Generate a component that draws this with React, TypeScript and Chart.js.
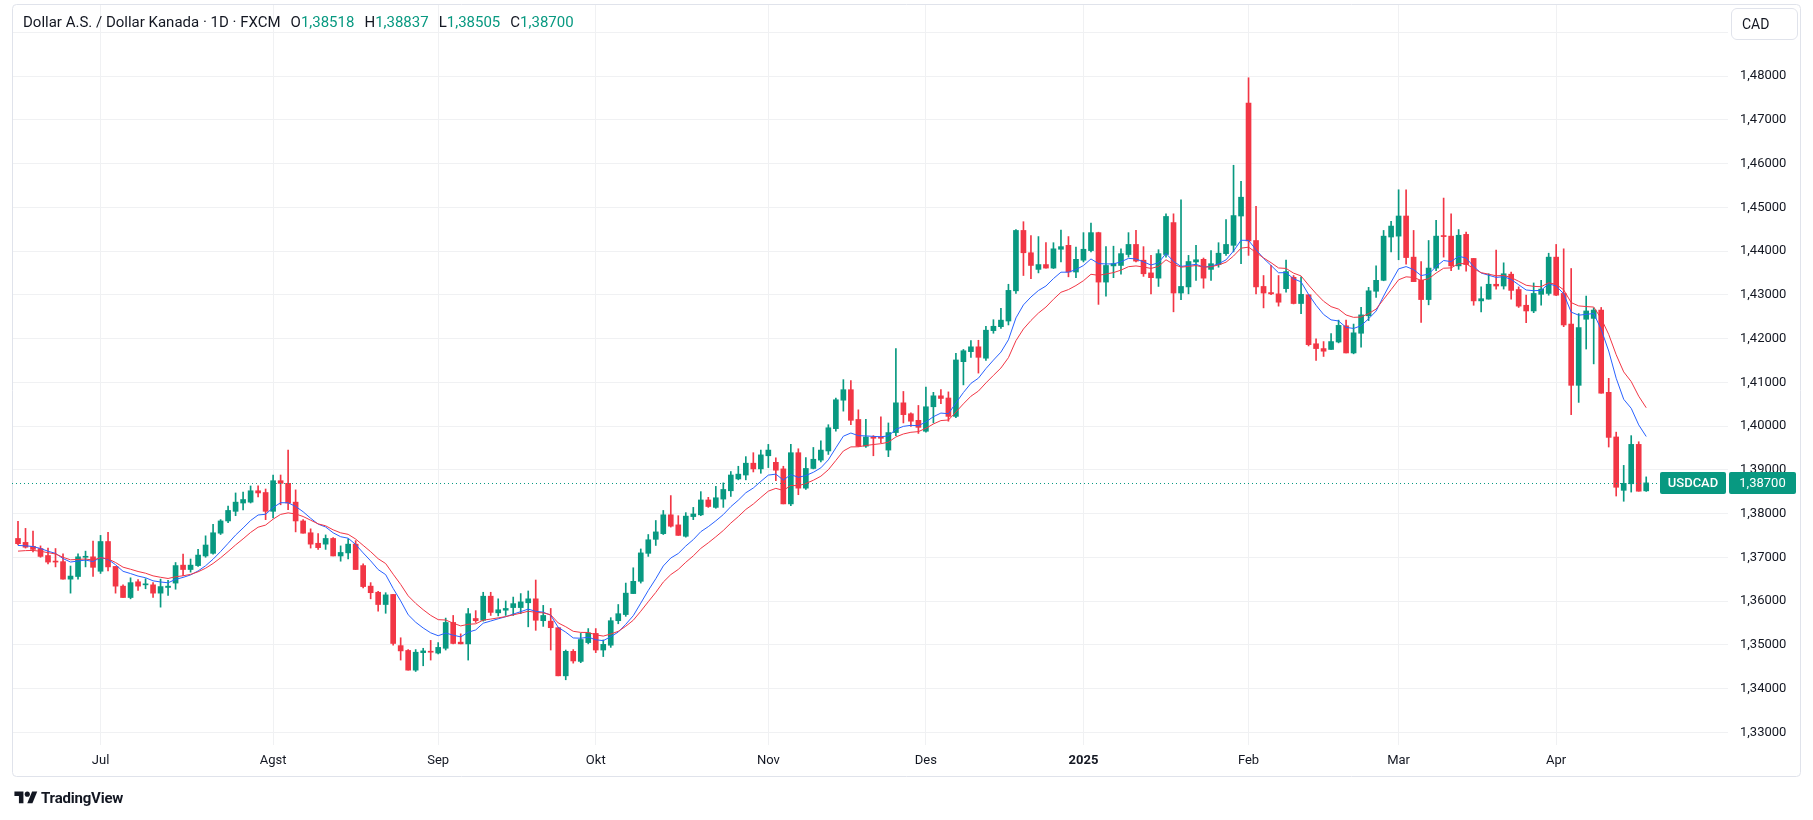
import React, { useEffect, useRef } from "react";
import { Chart, registerables } from "chart.js";

Chart.register(...registerables);

// ---------- DATA (daily candles, USDCAD, FXCM) ----------
const OPEN = [
  1.3743,1.3734,1.3725,1.3720,1.3704,1.3691,1.3690,1.3650,1.3656,1.3700,
  1.3701,1.3668,1.3736,1.3679,1.3634,1.3608,1.3644,1.3637,1.3637,1.3618,
  1.3631,1.3641,1.3682,1.3672,1.3681,1.3703,1.3709,1.3755,1.3783,1.3805,
  1.3824,1.3826,1.3852,1.3848,1.3805,1.3875,1.3869,1.3826,1.3783,1.3756,
  1.3732,1.3730,1.3743,1.3703,1.3710,1.3730,1.3681,1.3634,1.3620,1.3592,
  1.3615,1.3498,1.3487,1.3442,1.3482,1.3485,1.3481,1.3492,1.3551,1.3506,
  1.3502,1.3560,1.3556,1.3611,1.3573,1.3579,1.3585,1.3585,1.3596,1.3605,
  1.3555,1.3554,1.3539,1.3429,1.3485,1.3462,1.3505,1.3526,1.3488,1.3499,
  1.3555,1.3569,1.3617,1.3645,1.3709,1.3741,1.3754,1.3797,1.3774,1.3748,
  1.3793,1.3797,1.3831,1.3814,1.3833,1.3852,1.3879,1.3888,1.3915,1.3902,
  1.3932,1.3917,1.3902,1.3822,1.3939,1.3858,1.3903,1.3922,1.3943,1.3994,
  1.4059,1.4083,1.4015,1.3954,1.3975,1.3975,1.3945,1.3985,1.4053,1.4028,
  1.4013,1.3988,1.4044,1.4069,1.4064,1.4022,1.4147,1.4170,1.4181,1.4155,
  1.4218,1.4227,1.4240,1.4309,1.4447,1.4396,1.4358,1.4369,1.4361,1.4404,
  1.4413,1.4352,1.4379,1.4401,1.4442,1.4329,1.4366,1.4367,1.4392,1.4415,
  1.4379,1.4350,1.4338,1.4392,1.4465,1.4304,1.4318,1.4375,1.4381,1.4358,
  1.4369,1.4394,1.4413,1.4480,1.4738,1.4424,1.4319,1.4305,1.4302,1.4314,
  1.4340,1.4280,1.4300,1.4188,1.4177,1.4175,1.4192,1.4229,1.4167,1.4212,
  1.4252,1.4308,1.4333,1.4432,1.4434,1.4480,1.4386,1.4333,1.4289,1.4361,
  1.4434,1.4434,1.4366,1.4438,1.4383,1.4286,1.4290,1.4324,1.4320,1.4347,
  1.4312,1.4276,1.4263,1.4301,1.4303,1.4386,1.4303,1.4233,1.4093,1.4244,
  1.4246,1.4265,1.4077,1.3975,1.3853,1.3868,1.3958,1.38518,
];
const HIGH = [
  1.3782,1.3766,1.3760,1.3726,1.3721,1.3720,1.3708,1.3680,1.3708,1.3714,
  1.3737,1.3750,1.3757,1.3679,1.3637,1.3653,1.3649,1.3651,1.3642,1.3650,
  1.3647,1.3688,1.3707,1.3696,1.3718,1.3749,1.3775,1.3786,1.3817,1.3847,
  1.3849,1.3863,1.3863,1.3856,1.3888,1.3888,1.3945,1.3854,1.3786,1.3765,
  1.3754,1.3751,1.3745,1.3726,1.3742,1.3738,1.3685,1.3642,1.3622,1.3619,
  1.3615,1.3516,1.3489,1.3489,1.3492,1.3510,1.3505,1.3561,1.3567,1.3525,
  1.3583,1.3578,1.3620,1.3620,1.3605,1.3600,1.3609,1.3617,1.3623,1.3648,
  1.3590,1.3583,1.3539,1.3488,1.3489,1.3526,1.3537,1.3537,1.3511,1.3562,
  1.3592,1.3641,1.3676,1.3719,1.3752,1.3784,1.3807,1.3841,1.3795,1.3802,
  1.3814,1.3850,1.3837,1.3862,1.3870,1.3896,1.3908,1.3930,1.3939,1.3945,
  1.3958,1.3927,1.3908,1.3958,1.3948,1.3928,1.3951,1.3966,1.4003,1.4064,
  1.4106,1.4104,1.4037,1.4015,1.3978,1.4021,1.4007,1.4177,1.4079,1.4030,
  1.4047,1.4089,1.4077,1.4083,1.4078,1.4166,1.4175,1.4195,1.4196,1.4228,
  1.4243,1.4269,1.4324,1.4449,1.4467,1.4435,1.4433,1.4419,1.4419,1.4448,
  1.4433,1.4409,1.4442,1.4464,1.4443,1.4410,1.4411,1.4405,1.4442,1.4447,
  1.4410,1.4390,1.4403,1.4485,1.4485,1.4517,1.4390,1.4413,1.4384,1.4401,
  1.4419,1.4472,1.4596,1.4559,1.4796,1.4502,1.4344,1.4367,1.4344,1.4379,
  1.4344,1.4341,1.4300,1.4199,1.4193,1.4211,1.4242,1.4242,1.4233,1.4271,
  1.4317,1.4366,1.4447,1.4468,1.4540,1.4540,1.4447,1.4376,1.4424,1.4470,
  1.4521,1.4485,1.4449,1.4443,1.4383,1.4318,1.4348,1.4402,1.4373,1.4352,
  1.4318,1.4299,1.4327,1.4333,1.4395,1.4415,1.4405,1.4360,1.4257,1.4297,
  1.4270,1.4271,1.4109,1.3986,1.3910,1.3978,1.3964,1.38837,
];
const LOW = [
  1.3728,1.3721,1.3712,1.3700,1.3685,1.3678,1.3650,1.3618,1.3650,1.3678,
  1.3656,1.3663,1.3669,1.3618,1.3608,1.3605,1.3624,1.3628,1.3608,1.3586,
  1.3613,1.3627,1.3658,1.3666,1.3679,1.3700,1.3707,1.3752,1.3779,1.3795,
  1.3808,1.3824,1.3838,1.3786,1.3790,1.3820,1.3809,1.3758,1.3755,1.3721,
  1.3718,1.3718,1.3703,1.3691,1.3696,1.3672,1.3630,1.3605,1.3577,1.3572,
  1.3499,1.3465,1.3442,1.3439,1.3452,1.3465,1.3479,1.3488,1.3502,1.3502,
  1.3465,1.3551,1.3554,1.3567,1.3566,1.3567,1.3567,1.3571,1.3541,1.3533,
  1.3542,1.3488,1.3429,1.3420,1.3458,1.3459,1.3502,1.3482,1.3473,1.3494,
  1.3548,1.3565,1.3617,1.3641,1.3702,1.3727,1.3752,1.3769,1.3750,1.3746,
  1.3786,1.3795,1.3814,1.3812,1.3814,1.3839,1.3877,1.3877,1.3895,1.3892,
  1.3905,1.3875,1.3822,1.3818,1.3843,1.3855,1.3902,1.3918,1.3935,1.3988,
  1.4034,1.4003,1.3953,1.3951,1.3932,1.3962,1.3930,1.3978,1.4007,1.3999,
  1.3983,1.3986,1.4007,1.4051,1.4011,1.4019,1.4094,1.4157,1.4121,1.4150,
  1.4212,1.4223,1.4231,1.4303,1.4344,1.4337,1.4350,1.4361,1.4360,1.4375,
  1.4341,1.4339,1.4375,1.4398,1.4278,1.4297,1.4339,1.4347,1.4386,1.4375,
  1.4342,1.4302,1.4319,1.4386,1.4261,1.4289,1.4302,1.4333,1.4315,1.4333,
  1.4363,1.4390,1.4398,1.4371,1.4390,1.4302,1.4270,1.4300,1.4274,1.4306,
  1.4279,1.4257,1.4183,1.4150,1.4159,1.4175,1.4190,1.4167,1.4165,1.4180,
  1.4241,1.4294,1.4332,1.4398,1.4380,1.4370,1.4330,1.4237,1.4277,1.4355,
  1.4386,1.4355,1.4358,1.4354,1.4276,1.4261,1.4290,1.4313,1.4313,1.4290,
  1.4271,1.4236,1.4259,1.4276,1.4299,1.4298,1.4227,1.4026,1.4054,1.4176,
  1.4142,1.4075,1.3952,1.3840,1.3828,1.3849,1.3851,1.38505,
];
const CLOSE = [
  1.3731,1.3723,1.3718,1.3702,1.3689,1.3689,1.3650,1.3657,1.3701,1.3702,
  1.3677,1.3736,1.3678,1.3634,1.3608,1.3642,1.3634,1.3638,1.3618,1.3633,
  1.3634,1.3681,1.3672,1.3682,1.3705,1.3728,1.3756,1.3783,1.3807,1.3826,
  1.3832,1.3852,1.3847,1.3805,1.3875,1.3869,1.3824,1.3783,1.3755,1.3730,
  1.3722,1.3743,1.3703,1.3711,1.3730,1.3672,1.3633,1.3619,1.3592,1.3614,
  1.3503,1.3486,1.3442,1.3483,1.3486,1.3483,1.3494,1.3551,1.3503,1.3502,
  1.3571,1.3555,1.3611,1.3574,1.3580,1.3583,1.3594,1.3598,1.3605,1.3556,
  1.3567,1.3539,1.3429,1.3485,1.3463,1.3512,1.3527,1.3488,1.3501,1.3555,
  1.3571,1.3618,1.3645,1.3710,1.3740,1.3758,1.3797,1.3771,1.3750,1.3794,
  1.3799,1.3831,1.3816,1.3836,1.3855,1.3888,1.3890,1.3915,1.3902,1.3934,
  1.3945,1.3899,1.3822,1.3939,1.3858,1.3903,1.3924,1.3945,1.3996,1.4060,
  1.4083,1.4013,1.3954,1.3975,1.3972,1.3972,1.3985,1.4053,1.4026,1.4011,
  1.3997,1.4044,1.4069,1.4063,1.4022,1.4151,1.4172,1.4181,1.4157,1.4219,
  1.4228,1.4242,1.4310,1.4447,1.4396,1.4367,1.4369,1.4361,1.4405,1.4410,
  1.4352,1.4381,1.4404,1.4442,1.4329,1.4367,1.4371,1.4394,1.4415,1.4377,
  1.4348,1.4339,1.4394,1.4479,1.4304,1.4319,1.4376,1.4380,1.4338,1.4371,
  1.4395,1.4415,1.4481,1.4523,1.4423,1.4318,1.4304,1.4302,1.4283,1.4353,
  1.4280,1.4301,1.4186,1.4177,1.4171,1.4193,1.4230,1.4167,1.4213,1.4254,
  1.4309,1.4333,1.4434,1.4457,1.4480,1.4385,1.4330,1.4289,1.4361,1.4434,
  1.4433,1.4366,1.4436,1.4369,1.4286,1.4291,1.4324,1.4320,1.4348,1.4310,
  1.4274,1.4263,1.4303,1.4313,1.4386,1.4299,1.4231,1.4093,1.4225,1.4263,
  1.4265,1.4075,1.3974,1.3860,1.3869,1.3958,1.3851,1.38700,
];

// Time-axis labels: bar number where each month starts
const MONTH_TICKS = [12, 35, 57, 78, 101, 122, 143, 165, 185, 206];
const MONTH_LABELS = ["Jul", "Agst", "Sep", "Okt", "Nov", "Des", "2025", "Feb", "Mar", "Apr"];
const YEAR_LABEL = "2025";

// Price-axis ticks
const PRICE_TICKS = [1.33, 1.34, 1.35, 1.36, 1.37, 1.38, 1.39, 1.40, 1.41, 1.42, 1.43, 1.44, 1.45, 1.46, 1.47, 1.48, 1.49];

// Indicators (EMA of close) and their values at the first visible bar
const EMA_FAST_PERIOD = 9;
const EMA_SLOW_PERIOD = 14;
const EMA_FAST_START = 1.3727;
const EMA_SLOW_START = 1.3714;

const TITLE = "Dollar A.S. / Dollar Kanada · 1D · FXCM";
const SYMBOL = "USDCAD";
const CURRENCY = "CAD";
const LAST_O = OPEN[OPEN.length - 1];
const LAST_H = HIGH[HIGH.length - 1];
const LAST_L = LOW[LOW.length - 1];
const LAST_C = CLOSE[CLOSE.length - 1];

// ---------- STYLE ----------
const GREEN = "#089981";
const RED = "#F23645";
const BLUE_LINE = "#2962FF";
const RED_LINE = "#F23645";
const TEXT = "#131722";
const GRID = "#f0f1f3";
const FONT = "Roboto, 'Noto Sans', 'DejaVu Sans', sans-serif";

const fmt = (v: number) => v.toFixed(5).replace(".", ",");

function ema(values: number[], period: number, start: number) {
  const a = 2 / (period + 1);
  const out: number[] = [];
  let e = start;
  values.forEach((v, i) => {
    if (i > 0) e = e + a * (v - e);
    out.push(e);
  });
  return out;
}

function roundRect(ctx: CanvasRenderingContext2D, x: number, y: number, w: number, h: number, r: number) {
  ctx.beginPath();
  ctx.moveTo(x + r, y);
  ctx.lineTo(x + w - r, y);
  ctx.quadraticCurveTo(x + w, y, x + w, y + r);
  ctx.lineTo(x + w, y + h - r);
  ctx.quadraticCurveTo(x + w, y + h, x + w - r, y + h);
  ctx.lineTo(x + r, y + h);
  ctx.quadraticCurveTo(x, y + h, x, y + h - r);
  ctx.lineTo(x, y + r);
  ctx.quadraticCurveTo(x, y, x + r, y);
  ctx.closePath();
}

const overlayPlugin = {
  id: "tvOverlay",
  beforeDraw(chart: any) {
    const { ctx } = chart;
    ctx.save();
    ctx.fillStyle = "#ffffff";
    ctx.fillRect(0, 0, chart.width, chart.height);
    ctx.restore();
  },
  afterDraw(chart: any) {
    const { ctx, chartArea, scales } = chart;
    const y = Math.round(scales.y.getPixelForValue(LAST_C));
    ctx.save();
    // outer frame
    ctx.strokeStyle = "#e0e3eb";
    ctx.lineWidth = 1;
    roundRect(ctx, chartArea.left + 0.5, 4.5, 1800 - chartArea.left, chartArea.bottom + 31 - 4, 4);
    ctx.stroke();
    // last price dotted line
    const labelW = 66;
    const symX = chartArea.right - labelW - 2;
    ctx.strokeStyle = GREEN;
    ctx.setLineDash([1, 3]);
    ctx.beginPath();
    ctx.moveTo(chartArea.left, y + 0.5);
    ctx.lineTo(symX, y + 0.5);
    ctx.stroke();
    ctx.setLineDash([]);
    // labels
    ctx.fillStyle = GREEN;
    roundRect(ctx, symX, y - 11, labelW, 22, 2);
    ctx.fill();
    roundRect(ctx, chartArea.right + 1, y - 11, 67, 22, 2);
    ctx.fill();
    ctx.fillStyle = "#ffffff";
    ctx.textAlign = "center";
    ctx.textBaseline = "middle";
    ctx.font = `500 13px ${FONT}`;
    ctx.fillText(SYMBOL, symX + labelW / 2, y + 1);
    ctx.font = `13px ${FONT}`;
    ctx.fillText(fmt(LAST_C), chartArea.right + 1 + 67 / 2, y + 1);
    ctx.restore();
  },
};

export default function App() {
  const canvasRef = useRef<HTMLCanvasElement | null>(null);

  useEffect(() => {
    document.body.style.margin = "0";
    const canvas = canvasRef.current;
    if (!canvas) return;
    const idx = CLOSE.map((_, i) => i + 1);
    const colors = CLOSE.map((c, i) => (c >= OPEN[i] ? GREEN : RED));
    const bodies = idx.map((x, i) => ({ x, y: [OPEN[i], CLOSE[i]] }));
    const wicks = idx.map((x, i) => ({ x, y: [LOW[i], HIGH[i]] }));
    const fast = ema(CLOSE, EMA_FAST_PERIOD, EMA_FAST_START).map((v, i) => ({ x: i + 1, y: v }));
    const slow = ema(CLOSE, EMA_SLOW_PERIOD, EMA_SLOW_START).map((v, i) => ({ x: i + 1, y: v }));

    const chart = new Chart(canvas, {
      type: "bar",
      data: {
        datasets: [
          { type: "line", data: slow as any, borderColor: RED_LINE, borderWidth: 1, pointRadius: 0, tension: 0, order: 0 } as any,
          { type: "line", data: fast as any, borderColor: BLUE_LINE, borderWidth: 1, pointRadius: 0, tension: 0, order: 0 } as any,
          { type: "bar", data: bodies as any, backgroundColor: colors, barThickness: 5, grouped: false, minBarLength: 1, order: 1 } as any,
          { type: "bar", data: wicks as any, backgroundColor: colors, barThickness: 1, grouped: false, order: 2 } as any,
        ],
      },
      options: {
        responsive: false,
        animation: false,
        events: [],
        layout: { padding: { left: 12, right: 13, top: 5, bottom: 44 } },
        plugins: { legend: { display: false }, tooltip: { enabled: false }, title: { display: false } },
        scales: {
          x: {
            type: "linear",
            min: 0.2,
            max: 228.9,
            offset: false,
            border: { display: false },
            grid: { color: GRID, drawTicks: false, offset: false },
            afterBuildTicks: (scale: any) => {
              scale.ticks = MONTH_TICKS.map((v) => ({ value: v }));
            },
            afterFit: (scale: any) => {
              scale.height = 31;
              scale.paddingLeft = 0;
              scale.paddingRight = 0;
              scale.paddingTop = 0;
              scale.paddingBottom = 0;
            },
            ticks: {
              autoSkip: false,
              maxRotation: 0,
              padding: 8,
              color: TEXT,
              font: (c: any) => ({
                family: FONT,
                size: 13,
                weight: c.tick && MONTH_LABELS[MONTH_TICKS.indexOf(c.tick.value)] === YEAR_LABEL ? "bold" : "normal",
              }),
              callback: (v: any) => {
                const k = MONTH_TICKS.indexOf(Number(v));
                return k >= 0 ? MONTH_LABELS[k] : "";
              },
            },
          },
          y: {
            type: "linear",
            position: "right",
            min: 1.32709,
            max: 1.49623,
            border: { display: false },
            grid: { color: GRID, drawTicks: false },
            afterBuildTicks: (scale: any) => {
              scale.ticks = PRICE_TICKS.map((v) => ({ value: v }));
            },
            afterFit: (scale: any) => {
              scale.width = 72;
              scale.paddingTop = 0;
              scale.paddingBottom = 0;
              scale.paddingLeft = 0;
              scale.paddingRight = 0;
            },
            ticks: {
              padding: 12,
              color: TEXT,
              font: { family: FONT, size: 13 },
              callback: (v: any) => (Number(v) > 1.485 ? "" : fmt(Number(v))),
            },
          },
        },
      },
      plugins: [overlayPlugin],
    });
    return () => chart.destroy();
  }, []);

  const green = { color: GREEN };
  const gap = { marginLeft: 10 };
  return (
    <div style={{ position: "absolute", left: 0, top: 0, width: 1813, height: 820, background: "#fff", fontFamily: FONT }}>
      <canvas ref={canvasRef} width={1813} height={820} style={{ width: 1813, height: 820, display: "block" }} />
      <div style={{ position: "absolute", left: 23, top: 12, fontSize: 15, lineHeight: "20px", color: TEXT, whiteSpace: "pre" }}>
        <span>{TITLE}</span>
        <span style={gap}>O</span><span style={green}>{fmt(LAST_O)}</span>
        <span style={gap}>H</span><span style={green}>{fmt(LAST_H)}</span>
        <span style={gap}>L</span><span style={green}>{fmt(LAST_L)}</span>
        <span style={gap}>C</span><span style={green}>{fmt(LAST_C)}</span>
      </div>
      <div style={{ position: "absolute", left: 1731, top: 8, width: 65, height: 30, border: "1px solid #e0e3eb", borderRadius: 6, boxSizing: "content-box", fontSize: 14, lineHeight: "30px", color: TEXT }}>
        <span style={{ marginLeft: 10 }}>{CURRENCY}</span>
      </div>
      <div style={{ position: "absolute", left: 14, top: 789, display: "flex", alignItems: "center", color: TEXT }}>
        <svg width="24" height="18" viewBox="0 0 36 28">
          <path d="M14 22H7V11H0V4h14v18z" fill={TEXT} />
          <path d="M28 22h-8l7.5-18h8L28 22z" fill={TEXT} />
          <circle cx="20" cy="8" r="4" fill={TEXT} />
        </svg>
        <span style={{ fontSize: 15, fontWeight: 700, marginLeft: 3, letterSpacing: -0.2 }}>TradingView</span>
      </div>
    </div>
  );
}
